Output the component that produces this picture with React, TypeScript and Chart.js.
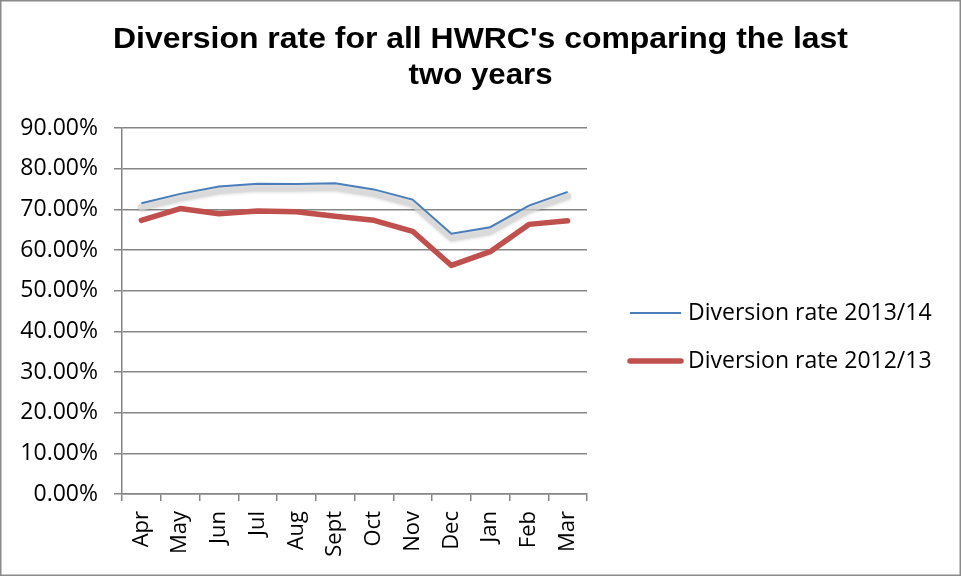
import { useEffect, useRef } from 'react';
import { Chart, registerables } from 'chart.js';

Chart.register(...registerables);

const months = ['Apr', 'May', 'Jun', 'Jul', 'Aug', 'Sept', 'Oct', 'Nov', 'Dec', 'Jan', 'Feb', 'Mar'];
const rate201314 = [71.5, 73.8, 75.6, 76.3, 76.2, 76.4, 74.9, 72.4, 64.0, 65.6, 70.9, 74.3];
const rate201213 = [67.3, 70.2, 68.9, 69.6, 69.4, 68.3, 67.3, 64.6, 56.2, 59.6, 66.3, 67.2];
const seriesNames = ['Diversion rate 2013/14', 'Diversion rate 2012/13'];
const titleLines = ["Diversion rate for all HWRC's comparing the last", 'two years'];
const yMin = 0;
const yMax = 90;
const yStep = 10;

const AXIS_GRAY = '#868686';
const BLUE = '#4A7EBB';
const RED = '#C0504D';
const FONT = "'Open Sans', 'Liberation Sans', sans-serif";
const TITLE_FONT = "bold 30px 'Liberation Sans', Arial, sans-serif";

const shadowPlugin = {
  id: 'lineShadow',
  beforeDatasetDraw(chart: any, args: any) {
    if (args.index !== 0) return;
    const meta = chart.getDatasetMeta(0);
    const pts = meta.data;
    if (!pts.length) return;
    const ctx = chart.ctx;
    ctx.save();
    ctx.beginPath();
    pts.forEach((p: any, i: number) => {
      if (i === 0) ctx.moveTo(p.x, p.y + 4);
      else ctx.lineTo(p.x, p.y + 4);
    });
    ctx.lineWidth = 7;
    ctx.lineJoin = 'round';
    ctx.lineCap = 'round';
    ctx.strokeStyle = 'rgba(215,215,215,0.7)';
    ctx.shadowColor = 'rgba(0,0,0,0.2)';
    ctx.shadowBlur = 3;
    ctx.shadowOffsetY = 1;
    ctx.stroke();
    ctx.restore();
  },
};

const titlePlugin = {
  id: 'stretchedTitle',
  afterDraw(chart: any) {
    const ctx = chart.ctx;
    const cx = chart.width / 2;
    const targets = [735, 144];
    const baselines = [48, 84];
    ctx.save();
    ctx.font = TITLE_FONT;
    ctx.fillStyle = '#000';
    ctx.textBaseline = 'alphabetic';
    ctx.textAlign = 'center';
    titleLines.forEach((line, i) => {
      const w = ctx.measureText(line).width;
      const sx = w > 0 ? targets[i] / w : 1;
      ctx.save();
      ctx.translate(cx, baselines[i]);
      ctx.scale(sx, 1);
      ctx.fillText(line, 0, 0);
      ctx.restore();
    });
    ctx.restore();
  },
};

const sideLegendPlugin = {
  id: 'sideLegend',
  afterDraw(chart: any) {
    const { ctx, chartArea } = chart;
    const mid = (chartArea.top + chartArea.bottom) / 2;
    const x0 = chartArea.right + 43;
    ctx.save();
    chart.data.datasets.forEach((ds: any, i: number) => {
      const y = mid + 2 + i * 48;
      ctx.beginPath();
      ctx.moveTo(x0, y);
      ctx.lineTo(x0 + 51, y);
      ctx.lineWidth = ds.borderWidth;
      ctx.strokeStyle = ds.borderColor;
      ctx.lineCap = ds.borderCapStyle || 'butt';
      ctx.stroke();
      ctx.fillStyle = '#000';
      ctx.font = `23px ${FONT}`;
      ctx.textBaseline = 'middle';
      ctx.textAlign = 'left';
      ctx.fillText(ds.label, x0 + 58, y);
    });
    ctx.restore();
  },
};

const borderPlugin = {
  id: 'outerBorder',
  afterDraw(chart: any) {
    const ctx = chart.ctx;
    ctx.save();
    ctx.strokeStyle = '#8a8a8a';
    ctx.lineWidth = 1.5;
    ctx.strokeRect(0.75, 0.75, chart.width - 1.5, chart.height - 1.5);
    ctx.restore();
  },
};

export default function App() {
  const ref = useRef<HTMLCanvasElement | null>(null);

  useEffect(() => {
    document.body.style.margin = '0';
    const canvas = ref.current;
    if (!canvas) return;
    const chart = new Chart(canvas, {
      type: 'line',
      data: {
        labels: months,
        datasets: [
          {
            label: seriesNames[0],
            data: rate201314,
            borderColor: BLUE,
            backgroundColor: BLUE,
            borderWidth: 2,
            pointRadius: 0,
            tension: 0,
            borderCapStyle: 'butt',
          },
          {
            label: seriesNames[1],
            data: rate201213,
            borderColor: RED,
            backgroundColor: RED,
            borderWidth: 5.5,
            pointRadius: 0,
            tension: 0,
            borderCapStyle: 'round',
            borderJoinStyle: 'round',
          },
        ],
      },
      options: {
        responsive: false,
        animation: false,
        layout: { padding: { left: 0, right: 374, top: 128, bottom: 0 } },
        plugins: {
          legend: { display: false },
          tooltip: { enabled: false },
          title: { display: false },
        },
        scales: {
          x: {
            offset: true,
            afterFit: (scale: any) => {
              scale.height = 82;
            },
            grid: {
              offset: true,
              drawOnChartArea: false,
              drawTicks: true,
              tickLength: 7,
              color: AXIS_GRAY,
              lineWidth: 1.5,
            },
            border: { color: AXIS_GRAY, width: 1.5 },
            ticks: {
              color: '#000',
              font: { family: FONT, size: 22 },
              minRotation: 90,
              maxRotation: 90,
              padding: 10,
              autoSkip: false,
            },
          },
          y: {
            min: yMin,
            max: yMax,
            afterFit: (scale: any) => {
              scale.width = 122;
            },
            grid: {
              color: AXIS_GRAY,
              lineWidth: 1.5,
              tickLength: 8,
            },
            border: { color: AXIS_GRAY, width: 1.5 },
            ticks: {
              stepSize: yStep,
              color: '#000',
              font: { family: FONT, size: 23 },
              padding: 16,
              callback: (v: any) => Number(v).toFixed(2) + '%',
            },
          },
        },
      },
      plugins: [shadowPlugin, titlePlugin, sideLegendPlugin, borderPlugin],
    } as any);
    return () => chart.destroy();
  }, []);

  return <canvas ref={ref} width={961} height={576} style={{ display: 'block' }} />;
}
